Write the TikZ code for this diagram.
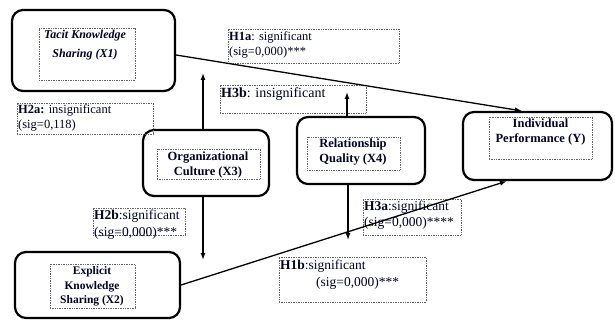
\documentclass[tikz,border=0pt]{standalone}
\usepackage{fontspec}
\setmainfont{Liberation Serif}
\usetikzlibrary{arrows.meta,fit,calc}
\tikzset{
 mainbox/.style={draw=black, line width=2.2pt, rounded corners=11pt, inner sep=0pt},
 dotbox/.style={draw=black!60, densely dotted, line width=0.7pt, inner sep=0pt},
 conn/.style={line width=1.3pt, -{Latex[length=7pt,width=5pt]}},
 nodetext/.style={font=\fontsize{12.5}{15}\selectfont\bfseries, align=center, inner sep=0pt, text=black!85!blue},
 lbltext/.style={font=\fontsize{12.5}{15}\selectfont, align=left, inner sep=0pt, anchor=north west, text=black!85!blue},
}
\begin{document}
\begin{tikzpicture}[x=1pt,y=-1pt]
\useasboundingbox (0,0) rectangle (615,320);
% main boxes
\node[mainbox, fit={(12,10) (175,91)}] (x1) {};
\node[mainbox, fit={(143,130) (269,196)}] (x3) {};
\node[mainbox, fit={(297,117) (425,184)}] (x4) {};
\node[mainbox, fit={(463,112) (612,180)}] (y) {};
\node[mainbox, fit={(15,252) (180,318)}] (x2) {};
% inner dotted boxes
\node[dotbox, fit={(39,28) (135,80)}] (x1d) {};
\node[dotbox, fit={(157,149) (260,179)}] (x3d) {};
\node[dotbox, fit={(307,137) (400,170)}] (x4d) {};
\node[dotbox, fit={(489,117) (592,159)}] (yd) {};
\node[dotbox, fit={(50,264) (135,308)}] (x2d) {};
% node texts
\node[nodetext, font=\fontsize{12}{15}\selectfont\bfseries\itshape] (x1t) at (85,45.5) {Tacit Knowledge\\[4pt]Sharing (X1)};
\node[nodetext] (x3t) at (208,164.5) {Organizational\\Culture (X3)};
\node[nodetext] (x4t) at (353,152) {Relationship\\Quality (X4)};
\node[nodetext] (yt) at (540.5,131.5) {Individual\\Performance (Y)};
\node[nodetext, font=\fontsize{11.5}{14.5}\selectfont\bfseries] (x2t) at (92,286.5) {Explicit\\Knowledge\\Sharing (X2)};
% label boxes
\node[dotbox, fit={(228,29) (399,63)}] (h1ab) {};
\node[dotbox, fit={(220,85) (366,113)}] (h3bb) {};
\node[dotbox, fit={(17,103) (153,134)}] (h2ab) {};
\node[dotbox, fit={(93,208) (185,235)}] (h2bb) {};
\node[dotbox, fit={(363,199) (461,235)}] (h3ab) {};
\node[dotbox, fit={(279,257) (426,302)}] (h1bb) {};
% label texts
\node[lbltext] (h1at) at (229,32) {\textbf{H1a}: significant\\(sig=0,000)***};
\node[lbltext, font=\fontsize{14}{16}\selectfont] (h3bt) at (221,87.5) {\textbf{H3b}: insignificant};
\node[lbltext] (h2at) at (18,105) {\textbf{H2a:} insignificant\\(sig=0,118)};
\node[lbltext, font=\fontsize{13.5}{17}\selectfont] (h2bt) at (94,209.5) {\textbf{H2b}:significant\\(sig=0,000)***};
\node[lbltext, font=\fontsize{13.5}{16}\selectfont] (h3at) at (364,200.5) {\textbf{H3a}:significant\\(sig=0,000)****};
\node[lbltext, font=\fontsize{13.5}{17}\selectfont] (h1bt) at (280,259.5) {\textbf{H1b}:significant\\\hspace*{36pt}(sig=0,000)***};
% free ends
\coordinate (c1) at (203,73);
\coordinate (c2) at (203,260);
\coordinate (c3) at (347,92);
\coordinate (c4) at (348,240);
% connectors
\draw[conn] ([yshift=-4.5pt]x1.east) -- ([xshift=60pt]y.north west);
\draw[conn] (x2.east) -- ([xshift=45pt]y.south west);
\draw[conn] (x3.north -| c1) -- (c1);
\draw[conn] (x3.south -| c2) -- (c2);
\draw[conn] (x4.north -| c3) -- (c3);
\draw[conn] (x4.south -| c4) -- (c4);
\end{tikzpicture}
\end{document}
